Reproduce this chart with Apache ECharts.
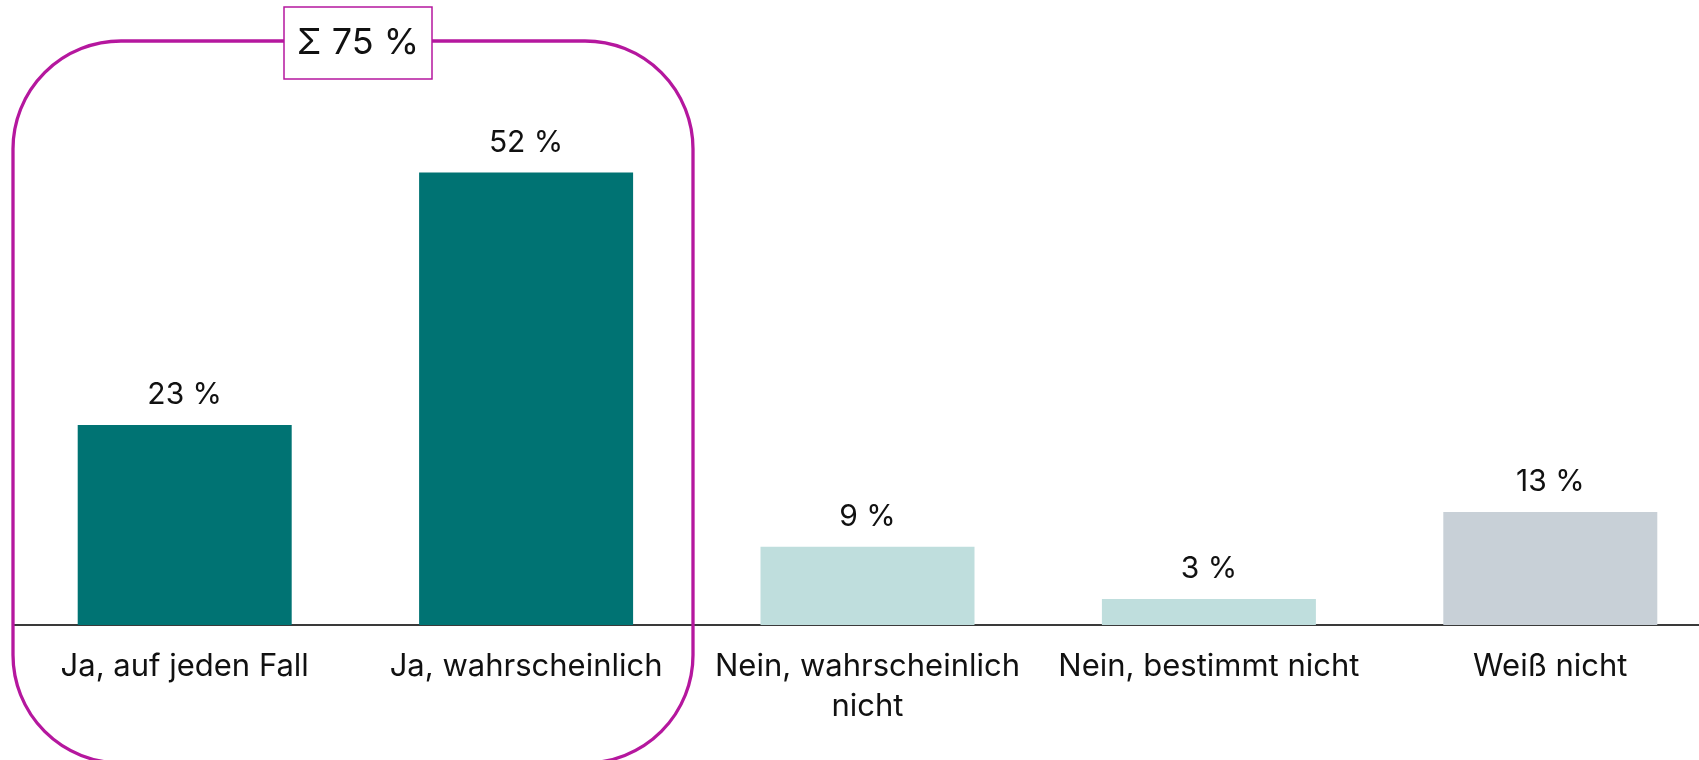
<!DOCTYPE html>
<html>
<head>
<meta charset="utf-8">
<script src="https://cdn.jsdelivr.net/npm/echarts@6/dist/echarts.min.js"></script>
<style>
  html, body { margin: 0; padding: 0; background: #fff; }
  #chart { width: 1699px; height: 760px; }
</style>
</head>
<body>
<div id="chart"></div>
<script>
const categories = ['Ja, auf jeden Fall', 'Ja, wahrscheinlich', 'Nein, wahrscheinlich\nnicht', 'Nein, bestimmt nicht', 'Weiß nicht']
const values = [23, 52, 9, 3, 13]
const barColors = ['#007373', '#007373', '#bfdedd', '#bfdedd', '#c8d0d7']
const sumLabel = 'Σ 75 %'

const magenta = '#b5179e'
const font = 'Inter, "Noto Sans", sans-serif'

const chart = echarts.init(document.getElementById('chart'))

chart.setOption({
  backgroundColor: '#ffffff',
  animation: false,
  // last category runs past the right edge of the canvas
  grid: { left: 14, right: -22, top: 103, bottom: 135, outerBoundsMode: 'none' },
  xAxis: {
    type: 'category',
    data: categories,
    axisLine: { lineStyle: { color: '#3a3a3a', width: 2 } },
    axisTick: { show: false },
    axisLabel: {
      interval: 0,
      margin: 22,
      color: '#111',
      fontFamily: font,
      fontSize: 31,
      lineHeight: 40,
    },
  },
  yAxis: { type: 'value', min: 0, max: 60, show: false },
  series: [
    {
      type: 'bar',
      barWidth: 214,
      data: values.map((v, i) => ({ value: v, itemStyle: { color: barColors[i] } })),
      label: {
        show: true,
        position: 'top',
        distance: 15,
        color: '#111',
        fontFamily: font,
        fontSize: 30,
        formatter: (p) => p.value + ' %',
      },
    },
  ],
  graphic: [
    {
      type: 'rect',
      shape: { x: 13, y: 41, width: 680, height: 722, r: 108 },
      style: { fill: 'none', stroke: magenta, lineWidth: 3.3 },
      z: 10,
    },
    {
      type: 'rect',
      shape: { x: 284, y: 7, width: 148, height: 72 },
      style: { fill: '#fff', stroke: magenta, lineWidth: 1.5 },
      z: 11,
    },
    {
      type: 'text',
      x: 358,
      y: 43,
      style: {
        text: sumLabel,
        fontFamily: font,
        fontSize: 36,
        fill: '#111',
        align: 'center',
        verticalAlign: 'middle',
      },
      z: 12,
    },
  ],
})
</script>
</body>
</html>
